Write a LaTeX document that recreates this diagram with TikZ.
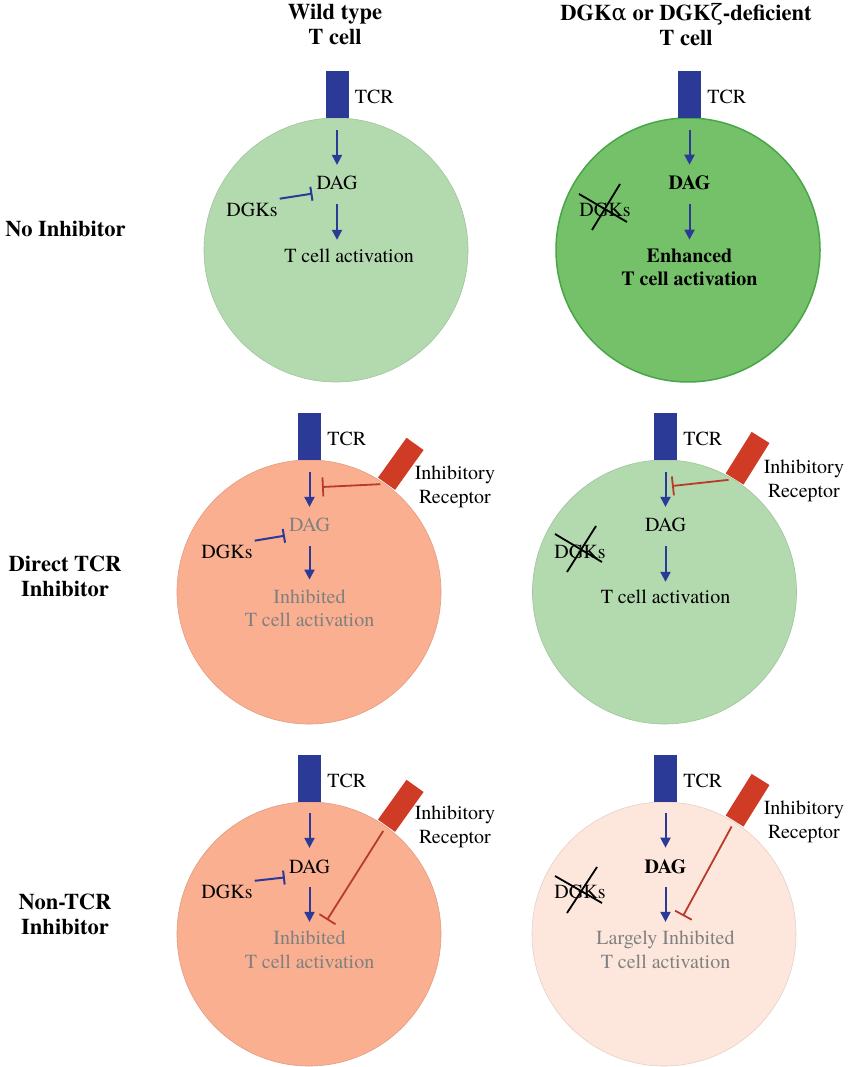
\documentclass[tikz,border=0pt]{standalone}
\usepackage{fontspec}
\setmainfont{TeX Gyre Termes}
\newfontfamily\greekfont{DejaVu Serif}
\usetikzlibrary{arrows.meta, positioning}
\definecolor{tcrblue}{RGB}{43, 58, 151}
\definecolor{recred}{RGB}{208, 59, 37}
\definecolor{inhred}{RGB}{184, 58, 42}
\definecolor{palegreen}{RGB}{179, 217, 174}
\definecolor{midgreen}{RGB}{117, 193, 106}
\definecolor{rimgreen}{RGB}{72, 166, 72}
\definecolor{salmon1}{RGB}{249, 175, 144}
\definecolor{peach1}{RGB}{253, 231, 220}
\definecolor{dimgray1}{RGB}{128, 128, 128}

\begin{document}
\begin{tikzpicture}[
  x=1pt, y=-1pt,
  cell/.style={circle, fill=#1, draw=#1!90!black, line width=0.6pt, minimum size=264pt, inner sep=0pt},
  tcr/.style={fill=tcrblue, minimum width=23pt, minimum height=47pt, inner sep=0pt, anchor=south},
  receptor/.style={fill=recred, minimum width=21pt, minimum height=49pt, inner sep=0pt, anchor=south, rotate=#1},
  txt/.style={inner sep=0pt, font=\fontsize{20}{23.5}\selectfont, align=center},
  txtb/.style={txt, font=\fontsize{20}{23.5}\selectfont\bfseries},
  txtg/.style={txt, text=dimgray1},
  tcrlbl/.style={txt, yshift=-2.5pt},
  head/.style={inner sep=0pt, font=\fontsize{22.5}{25}\selectfont\bfseries, align=center},
  act/.style={draw=tcrblue, line width=2pt, -{Triangle[length=10pt, width=10pt]}},
  inh/.style={draw=tcrblue, line width=2pt, -{Bar[width=14pt]}},
  rinh/.style={draw=inhred, line width=1.8pt, -{Bar[width=19pt]}},
  strike/.style={draw=black, line width=1.8pt},
]
  \useasboundingbox (0,0) rectangle (851,1067);

  % headings
  \node[head] (colWT) at (335,24.5) {Wild type\\T cell};
  \node[head] (colKO) at (686,24.5) {DGK{\greekfont\mdseries α} or DGK{\greekfont\mdseries ζ}-deficient\\T cell};
  \node[head] (rowNone) at (65.5,229) {No Inhibitor};
  \node[head] (rowDirect) at (65,576) {Direct TCR\\Inhibitor};
  \node[head] (rowNonTCR) at (65,914) {Non-TCR\\Inhibitor};

  % wild type, no inhibitor
  \node[cell=palegreen] (cellA) at (336,250) {};
  \node[tcr] (tcrA) at (337,118) {};
  \node[tcrlbl, right=6pt of tcrA] (tcrlA) {TCR};
  \node[txt] (dagA) at (337,183) {DAG};
  \node[txt] (dgkA) at (252,210) {DGKs};
  \node[txt] (actA) at (349,256) {T cell activation};
  \draw[act, shorten <=12pt, shorten >=11pt] (tcrA.south) -- (dagA.north);
  \draw[act, shorten <=14pt, shorten >=9pt] (dagA.south) -- (dagA.south |- actA.north);
  \draw[inh, shorten <=2pt, shorten >=4pt] ([yshift=11pt]dgkA.east) -- ([yshift=-10pt]dagA.west);

  % deficient, no inhibitor
  \node[cell=midgreen, draw=rimgreen, line width=1.5pt] (cellB) at (688,250) {};
  \node[tcr] (tcrB) at (689.5,118) {};
  \node[tcrlbl, right=6pt of tcrB] (tcrlB) {TCR};
  \node[txtb] (dagB) at (689.5,183) {DAG};
  \node[txt] (dgkB) at (605,210) {DGKs};
  \node[txtb] (actB) at (689.5,267.5) {Enhanced\\T cell activation};
  \draw[act, shorten <=12pt, shorten >=11pt] (tcrB.south) -- (dagB.north);
  \draw[act, shorten <=14pt, shorten >=9pt] (dagB.south) -- (actB.north);
  \draw[strike] (dgkB) ++(-26,-16) -- ++(48,28);
  \draw[strike] (dgkB) ++(15,-26) -- ++(-28,46);

  % wild type, direct TCR inhibitor
  \node[cell=salmon1] (cellC) at (309,592) {};
  \node[tcr] (tcrC) at (309.5,460) {};
  \node[tcrlbl, right=6pt of tcrC] (tcrlC) {TCR};
  \node[receptor=-35.6] (irC) at (386.4,483.9) {};
  \node[txt] (irlC) at (455,487) {Inhibitory\\Receptor};
  \coordinate (hitC) at (322,487);
  \node[txtg] (dagC) at (309.5,525) {DAG};
  \node[txt] (dgkC) at (227,552) {DGKs};
  \node[txtg] (actC) at (309.5,608.5) {Inhibited\\T cell activation};
  \draw[act, shorten <=12pt, shorten >=11pt] (tcrC.south) -- (dagC.north);
  \draw[act, shorten <=14pt, shorten >=10pt] (dagC.south) -- (actC.north);
  \draw[inh, shorten <=2pt, shorten >=4pt] ([yshift=11pt]dgkC.east) -- ([yshift=-10pt]dagC.west);
  \draw[rinh, shorten <=6pt] (irC.south) -- (hitC);

  % deficient, direct TCR inhibitor
  \node[cell=palegreen] (cellD) at (664.5,592) {};
  \node[tcr] (tcrD) at (665.5,460) {};
  \node[tcrlbl, right=6pt of tcrD] (tcrlD) {TCR};
  \node[receptor=-32] (irD) at (734.5,479.2) {};
  \node[txt] (irlD) at (804,481) {Inhibitory\\Receptor};
  \coordinate (hitD) at (672,486);
  \node[txt] (dagD) at (665.5,525) {DAG};
  \node[txt] (dgkD) at (580,552) {DGKs};
  \node[txt] (actD) at (665.5,597) {T cell activation};
  \draw[act, shorten <=12pt, shorten >=11pt] (tcrD.south) -- (dagD.north);
  \draw[act, shorten <=14pt, shorten >=8pt] (dagD.south) -- (actD.north);
  \draw[strike] (dgkD) ++(-25,-18) -- ++(47,28);
  \draw[strike] (dgkD) ++(16,-26) -- ++(-29,46);
  \draw[rinh, shorten <=6pt] (irD.south) -- (hitD);

  % wild type, non-TCR inhibitor
  \node[cell=salmon1] (cellE) at (309,934) {};
  \node[tcr] (tcrE) at (309.5,802) {};
  \node[tcrlbl, right=6pt of tcrE] (tcrlE) {TCR};
  \node[receptor=-35.6] (irE) at (386.4,825.9) {};
  \node[txt] (irlE) at (455,827) {Inhibitory\\Receptor};
  \coordinate (hitE) at (327,920);
  \node[txt] (dagE) at (309.5,867) {DAG};
  \node[txt] (dgkE) at (227,892) {DGKs};
  \node[txtg] (actE) at (309.5,949.8) {Inhibited\\T cell activation};
  \draw[act, shorten <=11pt, shorten >=12pt] (tcrE.south) -- (dagE.north);
  \draw[act, shorten <=13pt, shorten >=9pt] (dagE.south) -- (actE.north);
  \draw[inh, shorten <=2pt, shorten >=4pt] ([yshift=11pt]dgkE.east) -- ([yshift=-10pt]dagE.west);
  \draw[rinh, shorten <=6pt] (irE.south) -- (hitE);

  % deficient, non-TCR inhibitor
  \node[cell=peach1] (cellF) at (664,934) {};
  \node[tcr] (tcrF) at (665.5,802) {};
  \node[tcrlbl, right=6pt of tcrF] (tcrlF) {TCR};
  \node[receptor=-32] (irF) at (734.5,821.2) {};
  \node[txt] (irlF) at (804,822) {Inhibitory\\Receptor};
  \coordinate (hitF) at (683,916);
  \node[txtb] (dagF) at (665.5,867) {DAG};
  \node[txt] (dgkF) at (580,892) {DGKs};
  \node[txtg] (actF) at (665.5,949.8) {Largely Inhibited\\T cell activation};
  \draw[act, shorten <=11pt, shorten >=12pt] (tcrF.south) -- (dagF.north);
  \draw[act, shorten <=13pt, shorten >=9pt] (dagF.south) -- (actF.north);
  \draw[strike] (dgkF) ++(-25,-16) -- ++(47,27);
  \draw[strike] (dgkF) ++(17,-25) -- ++(-30,46);
  \draw[rinh, shorten <=6pt] (irF.south) -- (hitF);
\end{tikzpicture}
\end{document}
